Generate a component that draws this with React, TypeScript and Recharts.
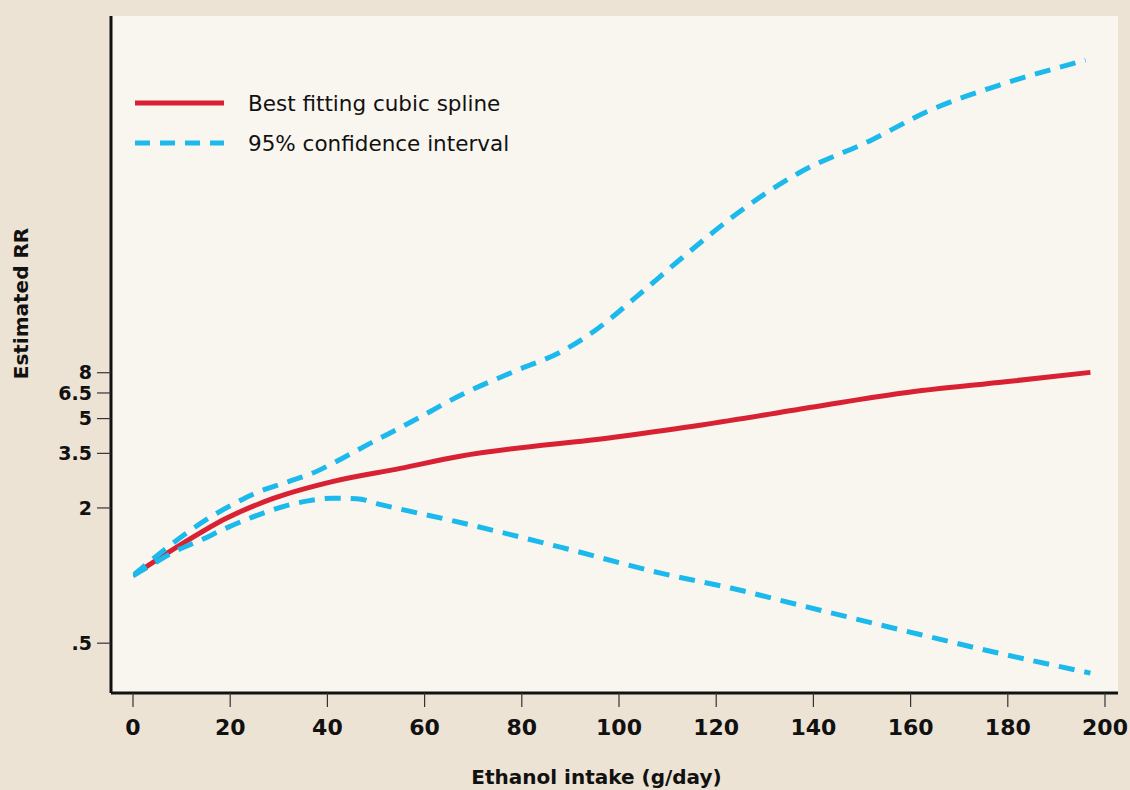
import React from "react";
import {
  CartesianGrid,
  Label,
  Legend,
  Line,
  LineChart,
  XAxis,
  YAxis,
} from "recharts";

// ethanol intake (g/day) and estimated RR
const splineX = [0, 10, 19, 29, 41, 55, 67, 99, 117, 140, 158, 180, 197];
const splineRR = [1.0, 1.38, 1.79, 2.21, 2.62, 3.0, 3.39, 4.13, 4.68, 5.63, 6.48, 7.31, 8.03];

const upperX = [0, 7, 15, 21, 25, 32, 37, 41, 48, 57, 68, 79, 88, 95, 103, 113, 125, 137, 152, 164, 178, 196];
const upperRR = [1.0, 1.33, 1.77, 2.1, 2.32, 2.62, 2.86, 3.15, 3.8, 4.8, 6.45, 8.2, 9.9, 12.3, 17, 26, 42, 62, 87, 118, 152, 197];

const lowerX = [0, 4, 8, 14, 19, 24, 29, 36, 41, 46, 51, 68, 89, 109, 123, 137, 158, 178, 197];
const lowerRR = [1.0, 1.12, 1.26, 1.44, 1.62, 1.8, 1.97, 2.15, 2.21, 2.2, 2.07, 1.71, 1.32, 1.02, 0.88, 0.74, 0.573, 0.452, 0.368];

const xTicks = [0, 20, 40, 60, 80, 100, 120, 140, 160, 180, 200];
const yTicks = [0.5, 2, 3.5, 5, 6.5, 8];

const toPoints = (xs: number[], ys: number[]) =>
  xs.map((x, i) => ({ x, rr: ys[i] }));

const RED = "#d82234";
const BLUE = "#1bb9ec";
const INK = "#111";
const FONT = "DejaVu Sans";

const renderLegend = (props: any) => {
  // solid spline first, then the dashed interval
  const items = (props.payload || [])
    .filter((p: any) => p.type !== "none")
    .sort(
      (a: any, b: any) =>
        (a.payload?.strokeDasharray ? 1 : 0) -
        (b.payload?.strokeDasharray ? 1 : 0)
    );
  return (
    <svg width={440} height={80}>
      {items.map((entry: any, i: number) => (
        <g key={entry.value}>
          <line
            x1={0}
            x2={89}
            y1={18 + i * 40}
            y2={18 + i * 40}
            stroke={entry.color}
            strokeWidth={5}
            strokeDasharray={entry.payload?.strokeDasharray ? "15 10" : undefined}
          />
          <text
            x={113}
            y={18 + i * 40}
            dominantBaseline="central"
            fontFamily={FONT}
            fontSize={21.5}
            fill={INK}
          >
            {entry.value}
          </text>
        </g>
      ))}
    </svg>
  );
};

const YTitle = (props: any) => {
  const { viewBox } = props;
  const cx = viewBox.x + 21;
  const cy = viewBox.y + viewBox.height / 2 - 51;
  return (
    <text
      x={cx}
      y={cy}
      transform={`rotate(-90, ${cx}, ${cy})`}
      textAnchor="middle"
      dominantBaseline="central"
      fontFamily={FONT}
      fontWeight="bold"
      fontSize={20}
      fill={INK}
    >
      Estimated RR
    </text>
  );
};

export default function App() {
  const xTickStyle = {
    fontFamily: FONT,
    fontWeight: "bold",
    fontSize: 22,
    fill: INK,
  };
  const yTickStyle = { ...xTickStyle, fontSize: 19 };
  return (
    <div
      style={{
        position: "absolute",
        left: 0,
        top: 0,
        width: 1130,
        height: 790,
        background: "#ede3d4",
      }}
    >
      <LineChart
        width={1130}
        height={790}
        margin={{ top: 16, right: 12, bottom: 0, left: 0 }}
        style={{ fontFamily: FONT }}
      >
        <CartesianGrid stroke="none" fill="#f9f6ef" />
        <XAxis
          type="number"
          dataKey="x"
          domain={[0, 200]}
          ticks={xTicks}
          interval={0}
          padding={{ left: 22, right: 13 }}
          height={97}
          axisLine={{ stroke: INK, strokeWidth: 3 }}
          tickLine={{ stroke: "#333", strokeWidth: 1.2 }}
          tickSize={14}
          tickMargin={12}
          tick={xTickStyle}
          allowDataOverflow
        >
          <Label
            value="Ethanol intake (g/day)"
            position="insideBottom"
            offset={6}
            dx={-18}
            style={{ fontFamily: FONT, fontWeight: "bold", fontSize: 20, fill: INK }}
          />
        </XAxis>
        <YAxis
          type="number"
          dataKey="rr"
          scale="log"
          domain={[0.3, 310]}
          ticks={yTicks}
          interval={0}
          tickFormatter={(v: number) => (v < 1 ? ".5" : String(v))}
          width={111}
          axisLine={{ stroke: INK, strokeWidth: 3 }}
          tickLine={{ stroke: "#333", strokeWidth: 1.2 }}
          tickSize={14}
          tickMargin={5}
          tick={yTickStyle}
          allowDataOverflow
        >
          <Label content={<YTitle />} />
        </YAxis>
        <Legend
          layout="horizontal"
          verticalAlign="middle"
          align="center"
          wrapperStyle={{ top: 85, left: 135, width: 440, height: 80 }}
          content={renderLegend}
        />
        <Line
          data={toPoints(splineX, splineRR)}
          dataKey="rr"
          name="Best fitting cubic spline"
          type="monotone"
          stroke={RED}
          strokeWidth={5}
          dot={false}
          isAnimationActive={false}
        />
        <Line
          data={toPoints(upperX, upperRR)}
          dataKey="rr"
          name="95% confidence interval"
          type="monotone"
          stroke={BLUE}
          strokeWidth={5}
          strokeDasharray="16 10"
          dot={false}
          isAnimationActive={false}
        />
        <Line
          data={toPoints(lowerX, lowerRR)}
          dataKey="rr"
          name="95% confidence interval (lower)"
          legendType="none"
          type="monotone"
          stroke={BLUE}
          strokeWidth={5}
          strokeDasharray="16 10"
          dot={false}
          isAnimationActive={false}
        />
      </LineChart>
    </div>
  );
}
